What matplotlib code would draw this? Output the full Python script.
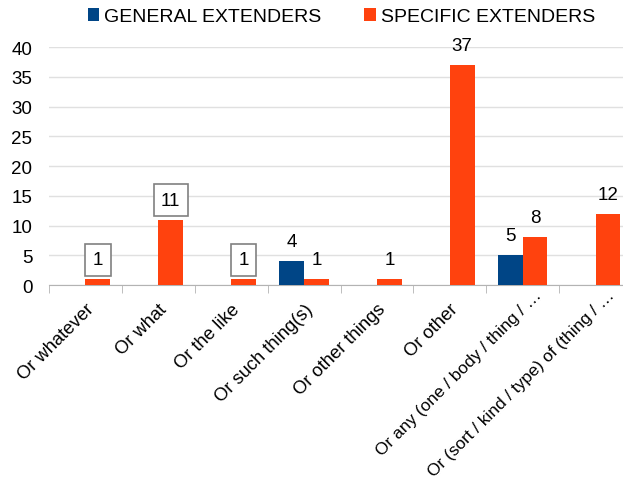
import numpy as np
import matplotlib
matplotlib.use("Agg")
import matplotlib.pyplot as plt
from matplotlib.transforms import ScaledTranslation

plt.rcParams['font.family'] = ['Liberation Sans', 'DejaVu Sans']

categories = ['Or whatever', 'Or what', 'Or the like', 'Or such thing(s)',
              'Or other things', 'Or other', 'Or any (one / body / thing / \u2026',
              'Or (sort / kind / type) of (thing / \u2026']
general = [0, 0, 0, 4, 0, 0, 5, 0]
specific = [1, 11, 1, 1, 1, 37, 8, 12]
boxed = [True, True, True, False, False, False, False, False]

blue = '#004586'
orange = '#ff420e'
fs = 13.5

fig = plt.figure(figsize=(6.23, 4.81), dpi=100)
ax = fig.add_axes([0.0787, 0.4054, 0.9357, 0.4948])

x = np.arange(len(categories))
w = 0.34
b1 = ax.bar(x - w / 2, general, w, color=blue, label='GENERAL EXTENDERS', zorder=3)
b2 = ax.bar(x + w / 2, specific, w, color=orange, label='SPECIFIC EXTENDERS', zorder=3)

# value labels
for i in range(len(categories)):
    if general[i] > 0:
        ax.annotate(str(general[i]), (x[i] - w / 2, general[i]), xytext=(0, 14),
                    textcoords='offset points', ha='center', va='center', fontsize=fs)
    if specific[i] > 0:
        kw = {}
        if boxed[i]:
            kw['bbox'] = dict(boxstyle='square,pad=0.4', fc='white', ec='#808080', lw=1.2)
        ax.annotate(str(specific[i]), (x[i] + w / 2, specific[i]), xytext=(0, 14),
                    textcoords='offset points', ha='center', va='center', fontsize=fs, **kw)

ax.set_xlim(-0.5, len(categories) - 0.5)
ax.set_ylim(0, 40)
ax.set_yticks(range(0, 41, 5))
ax.tick_params(axis='y', length=0, labelsize=fs, pad=12)
ax.yaxis.grid(True, color='#e0e0e0', lw=1, zorder=0)

ax.set_xticks(x)
labels = ax.set_xticklabels(categories, rotation=45, ha='right', rotation_mode='anchor', fontsize=13.2)
ax.tick_params(axis='x', length=0, pad=11)
ax.set_xticks(np.arange(-0.5, len(categories), 1), minor=True)
ax.tick_params(axis='x', which='minor', length=6, color='#b3b3b3')

# truncated labels sit a little further along their direction
for lab in labels[-2:]:
    lab.set_fontsize(12.4)
    lab.set_transform(lab.get_transform() + ScaledTranslation(0.11, 0.13, fig.dpi_scale_trans))

for s in ['top', 'right', 'left']:
    ax.spines[s].set_visible(False)
ax.spines['bottom'].set_color('#b3b3b3')

fig.legend(handles=[b1, b2], loc='center', bbox_to_anchor=(0.548, 0.963), ncol=2,
           frameon=False, fontsize=14, handlelength=0.6, handleheight=0.6,
           handletextpad=0.25, columnspacing=2.2)

fig.savefig('out.png', dpi=100)
